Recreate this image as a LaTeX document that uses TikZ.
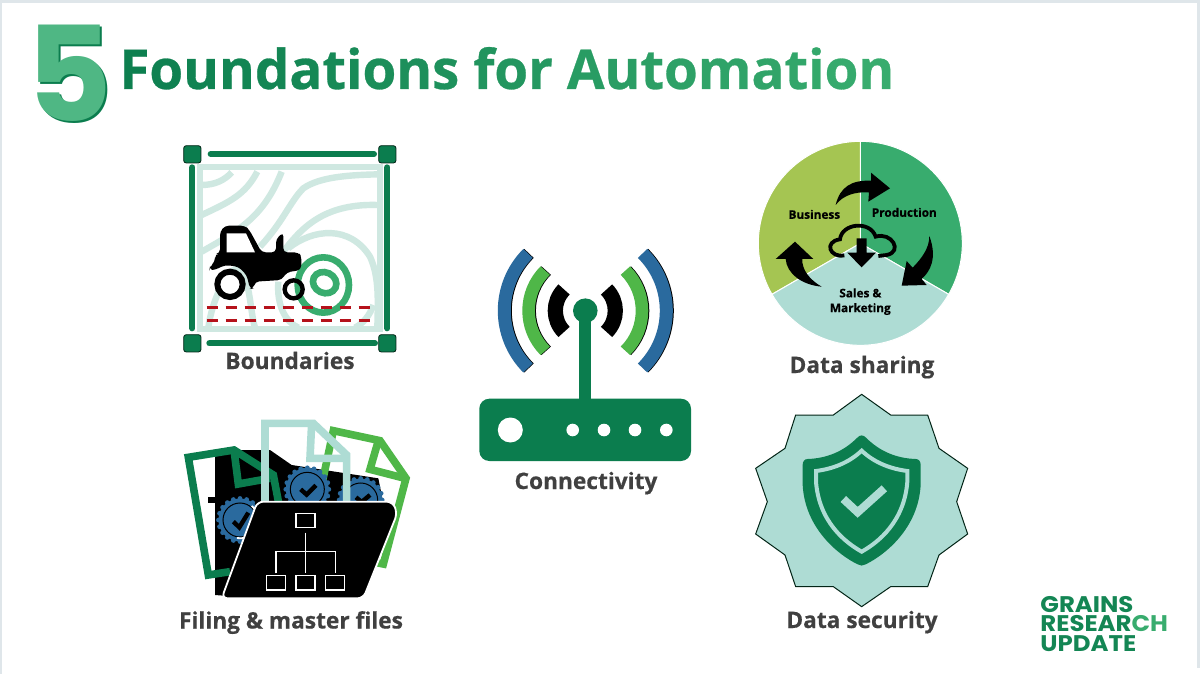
\documentclass[tikz,border=0pt]{standalone}
\usepackage{fontspec}
\usetikzlibrary{calc}
\setmainfont{Open Sans}[BoldFeatures={FakeBold=0.5}]
\newfontfamily\fivefont{Poppins}
\newfontfamily\logofont{Poppins}[FakeStretch=1.08]
\definecolor{grdark}{HTML}{0B7D4E}
\definecolor{grlight}{HTML}{38AC6E}
\definecolor{grmid}{HTML}{4FB784}
\definecolor{palegreen}{HTML}{CFE8E1}
\definecolor{tealpale}{HTML}{AEDCD4}
\definecolor{limegreen}{HTML}{A5C552}
\definecolor{brightgreen}{HTML}{4FB748}
\definecolor{sealblue}{HTML}{2A6A9E}
\definecolor{labelgrey}{HTML}{404040}
\definecolor{edgegrey}{HTML}{DFE6EA}
\definecolor{linered}{HTML}{B5121B}
\newcommand{\gradtext}[3]{\foreach \ch [count=\n] in {#1}{\pgfmathtruncatemacro{\pct}{100-\n*#2}\textcolor{grdark!\pct!grlight}{\ch}\kern#3}}
\tikzset{
  iconlabel/.style={anchor=base, text=labelgrey, font=\fontsize{11.35}{13}\selectfont\bfseries},
  slicelabel/.style={align=center, font=\fontsize{5.9}{7.4}\selectfont\bfseries},
  logotext/.style={anchor=south west, inner sep=0pt, align=left, text=grdark!80!grlight, font=\logofont\fontsize{11.3}{9.75}\selectfont\bfseries},
  cornerbox/.style={draw=black!70!grdark, fill=grdark, line width=0.4pt, rounded corners=1.2pt},
  fieldbar/.style={draw=grdark, line width=3pt, line cap=round},
  contour/.style={draw=palegreen, line width=3.2pt},
  reddash/.style={draw=linered, line width=1.6pt, dash pattern=on 5.5pt off 4pt},
  pagestroke/.style={line width=3.8pt, line join=miter},
  chartline/.style={draw=white, line width=0.7pt},
  seal/.pic={
    \fill[sealblue] (0,0) circle (21.5);
    \foreach \a in {0,18,...,342} \fill[sealblue] (\a:21.5) circle (2.4);
    \draw[black, line width=0.5pt] (0,0) circle (17);
  }
}
\begin{document}
\begin{tikzpicture}[x=0.5pt, y=-0.5pt]
  \useasboundingbox (0,0) rectangle (1200,674);
  \fill[edgegrey] (0,0) rectangle (1200,674);
  \fill[white] (1.5,3) rectangle (1197,674);
  \fill[white] (1197,668) rectangle (1200,674);

  % Title
  \node[anchor=base, inner sep=0pt, text=grdark, font=\fivefont\fontsize{66}{70}\selectfont\bfseries] (fiveback) at (71.5,124) {5};
  \node[anchor=base, inner sep=0pt, text=grmid, font=\fivefont\fontsize{66}{70}\selectfont\bfseries] (five) at (69.5,122) {5};
  \node[anchor=base west, inner sep=0pt, font=\fontsize{27.4}{30}\selectfont\bfseries] (title) at (119,89)
    {\gradtext{F,o,u,n,d,a,t,i,o,n,s,~,f,o,r,~,A,u,t,o,m,a,t,i,o,n}{3.8}{-0.08pt}};

  % Boundaries
  \begin{scope}[shift={(170,135)}, scale=1/3]
    \draw[draw=palegreen, line width=3pt] (90,96) rectangle (630,582);
    \draw[contour] (95,150) .. controls (135,150) and (165,135) .. (185,112);
    \draw[contour] (95,240) .. controls (180,200) and (225,180) .. (262,110);
    \draw[contour] (95,350) .. controls (200,290) and (280,250) .. (335,110);
    \draw[contour] (270,335) .. controls (340,260) and (360,200) .. (400,160) .. controls (450,125) and (540,120) .. (625,118);
    \draw[contour] (340,350) .. controls (400,270) and (470,205) .. (625,210);
    \draw[contour] (355,340) .. controls (430,280) and (540,270) .. (600,365) .. controls (625,420) and (625,480) .. (622,575);
    \draw[contour] (325,440) .. controls (320,510) and (345,560) .. (385,578);
    \draw[contour] (555,578) .. controls (580,565) and (600,540) .. (610,510);
    \draw[contour] (115,578) .. controls (125,500) and (170,400) .. (205,400) .. controls (240,420) and (240,530) .. (255,578);
    \draw[draw=grlight, line width=3.3pt] (460,450) ellipse [x radius=77, y radius=83];
    \draw[draw=grlight, line width=3.3pt, rotate around={-25:(464,443)}] (464,443) ellipse [x radius=36, y radius=31];
    \draw[reddash] (110,518) -- (610,518);
    \draw[reddash] (110,556) -- (610,556);
    % tractor
    \fill[black, rounded corners=2pt] (135,358) -- (150,355) -- (150,290) -- (165,272) -- (225,272) -- (238,285) -- (275,352) -- (318,352) -- (318,312) -- (340,292) -- (340,352) -- (385,352) -- (395,365) -- (393,405) -- (350,412) -- (335,435) -- (255,440) -- (250,462) -- (240,462) -- (230,420) -- (205,395) -- (165,390) -- (135,405) -- (118,405) -- (120,395) -- (135,380) -- cycle;
    \fill[white] (170,295) -- (228,295) -- (255,352) -- (170,352) -- cycle;
    \draw[draw=black, fill=white, line width=3pt] (180,448) circle (38);
    \draw[draw=black, line width=2.2pt] (371,463) circle (27);
    \foreach \bx/\by/\bname in {67/58/boxa, 652/58/boxb, 67/625/boxc, 652/625/boxd}
      \node[cornerbox, inner sep=0pt, minimum size=8.6pt] (\bname) at (\bx,\by) {};
    \draw[fieldbar] (122,57) -- (612,57);
    \draw[fieldbar] (118,625) -- (615,625);
    \draw[fieldbar] (67,97) -- (67,580);
    \draw[fieldbar] (652,97) -- (652,580);
  \end{scope}
  \node[iconlabel] (boundaries) at (290,369) {Boundaries};

  % Filing and master files
  \begin{scope}[shift={(170,410)}, scale=1/3]
    \fill[black] (135,140) -- (200,120) -- (300,120) -- (365,165) -- (625,205) -- (640,280) -- (200,560) -- (135,555) -- cycle;
    \fill[black] (115,262) rectangle (140,278);
    \draw[draw=grdark, pagestroke] (180,485) -- (115,495) -- (55,142) -- (192,120) -- (310,195) -- (330,300);
    \draw[draw=grdark, pagestroke] (192,120) -- (205,222) -- (300,205);
    \draw[draw=brightgreen, pagestroke] (455,225) -- (490,62) -- (630,92) -- (708,205) -- (640,462) -- (620,458);
    \draw[draw=brightgreen, pagestroke] (625,92) -- (600,178) -- (705,205);
    \pic at (210,330) {seal};
    \pic at (412,238) {seal};
    \pic at (572,270) {seal};
    \draw[draw=white, line width=0.9pt] (210,330) ++(-50:55) arc[start angle=-50, end angle=100, radius=55];
    \draw[draw=tealpale, pagestroke] (285,280) -- (285,40) -- (430,40) -- (530,135) -- (530,285);
    \draw[draw=tealpale, pagestroke] (425,40) -- (420,145) -- (530,145);
    \draw[draw=black, line width=2.2pt] (190,335) -- (208,352) -- (235,308);
    \draw[draw=black, line width=2.2pt] (392,238) -- (410,254) -- (438,226);
    \draw[draw=black, line width=2.2pt] (558,262) -- (575,276) -- (600,255);
    \draw[draw=white, fill=black, line width=0.9pt, rounded corners=3pt] (262,275) -- (668,275) -- (682,310) -- (580,565) -- (155,565) -- cycle;
    \draw[chartline] (378,310) rectangle (435,352);
    \draw[chartline] (407,368) -- (407,490);
    \draw[chartline] (318,490) -- (318,425) -- (497,425) -- (497,490);
    \draw[chartline] (290,497) rectangle (347,540);
    \draw[chartline] (378,497) rectangle (435,540);
    \draw[chartline] (467,497) rectangle (523,540);
  \end{scope}
  \node[iconlabel] (filing) at (291,628.5) {Filing \& master files};

  % Connectivity
  \foreach \dx/\col in {1/black, 0/sealblue} {
    \draw[draw=\col, line width=6.5pt] ($(585.3,310.7)+(\dx,0)$) ++(135:81) arc[start angle=135, end angle=225, radius=81];
    \draw[draw=\col, line width=6.5pt] ($(585.3,310.7)+(\dx,0)$) ++(-45:81) arc[start angle=-45, end angle=45, radius=81];
  }
  \foreach \dx/\col in {1/black, 0/brightgreen} {
    \draw[draw=\col, line width=6.3pt] ($(585.3,310.7)+(\dx,0)$) ++(135:56.7) arc[start angle=135, end angle=225, radius=56.7];
    \draw[draw=\col, line width=6.3pt] ($(585.3,310.7)+(\dx,0)$) ++(-45:56.7) arc[start angle=-45, end angle=45, radius=56.7];
  }
  \draw[draw=black, line width=7.6pt] (585.3,310.7) ++(135:30) arc[start angle=135, end angle=225, radius=30];
  \draw[draw=black, line width=7.6pt] (585.3,310.7) ++(-45:30) arc[start angle=-45, end angle=45, radius=30];
  \fill[grdark] (585.3,310.7) circle (12.3);
  \fill[grdark] (579.3,311) rectangle (591.3,400);
  \fill[grdark, rounded corners=5pt] (479.3,398.7) rectangle (691,461);
  \fill[white] (510.3,430) circle (12.5);
  \foreach \dotx in {572.7,604,635,666.3}
    \fill[white] (\dotx,430) circle (6.3);
  \node[iconlabel] (connectivity) at (586,489) {Connectivity};

  % Data sharing
  \begin{scope}[shift={(745,130)}, scale=1/3]
    \coordinate (hub) at (346,340);
    \draw[draw=white, fill=grlight, line width=0.5pt] (hub) -- ++(-90:306) arc[start angle=-90, end angle=30, radius=306] -- cycle;
    \draw[draw=white, fill=limegreen, line width=0.5pt] (hub) -- ++(-90:306) arc[start angle=-90, end angle=-210, radius=306] -- cycle;
    \draw[draw=white, fill=tealpale, line width=0.5pt] (hub) -- ++(-210:306) arc[start angle=-210, end angle=-330, radius=306] -- cycle;
    \fill[black] (272,225) .. controls (285,170) and (320,150) .. (378,152) -- (378,128) -- (435,175) -- (370,215) -- (372,187) .. controls (330,185) and (295,195) .. (272,225) -- cycle;
    \fill[black] (553,318) .. controls (578,385) and (555,425) .. (530,447) -- (545,465) -- (470,467) -- (485,393) -- (503,413) .. controls (530,385) and (553,355) .. (553,318) -- cycle;
    \fill[black] (230,470) .. controls (170,465) and (125,430) .. (122,387) -- (92,387) -- (150,335) -- (205,387) -- (172,387) .. controls (170,420) and (195,450) .. (230,470) -- cycle;
    \draw[draw=black, line width=1.9pt] (298,376) .. controls (255,385) and (235,335) .. (285,328) .. controls (290,280) and (375,270) .. (392,320) .. controls (440,305) and (475,365) .. (425,375) -- (400,378);
    \fill[black] (335,325) -- (365,325) -- (365,368) -- (393,368) -- (350,412) -- (307,368) -- (335,368) -- cycle;
    \node[slicelabel] (business) at (208,253) {Business};
    \node[slicelabel] (production) at (478,247) {Production};
    \node[slicelabel] (sales) at (346,515) {Sales \&\\Marketing};
  \end{scope}
  \node[iconlabel] (sharing) at (862,373) {Data sharing};

  % Data security
  \begin{scope}[shift={(745,385)}, scale=1/3]
    \draw[draw=black!70!grdark, fill=tealpale, line width=0.5pt] (350,28) -- (437,90) -- (548,90) -- (582,190) -- (668,250) -- (635,350) -- (668,447) -- (582,510) -- (548,605) -- (437,605) -- (350,665) -- (265,605) -- (152,605) -- (120,510) -- (32,447) -- (67,350) -- (32,250) -- (120,190) -- (152,90) -- (265,90) -- cycle;
    \fill[grdark] (337,158) .. controls (345,149) and (355,149) .. (363,158) .. controls (405,200) and (455,220) .. (512,222) .. controls (522,222) and (527,230) .. (527,240) -- (527,300) .. controls (520,430) and (420,510) .. (362,538) .. controls (355,543) and (345,543) .. (338,538) .. controls (280,510) and (180,430) .. (173,300) -- (173,240) .. controls (173,230) and (178,222) .. (188,222) .. controls (245,220) and (295,200) .. (337,158) -- cycle;
    \draw[draw=tealpale, line width=2pt] (350,197) .. controls (310,235) and (260,252) .. (213,258) -- (213,290) .. controls (222,410) and (300,472) .. (350,500) .. controls (400,472) and (478,410) .. (487,290) -- (487,258) .. controls (440,252) and (390,235) .. (350,197) -- cycle;
    \draw[draw=tealpale, line width=4pt] (295,342) -- (338,382) -- (418,310);
  \end{scope}
  \node[iconlabel] (security) at (862,628) {Data security};

  % Logo
  \node[logotext] (logo) at (1040,652) {GRAINS\\RESEAR\textcolor{grlight}{CH}\\UPDATE};
\end{tikzpicture}
\end{document}
